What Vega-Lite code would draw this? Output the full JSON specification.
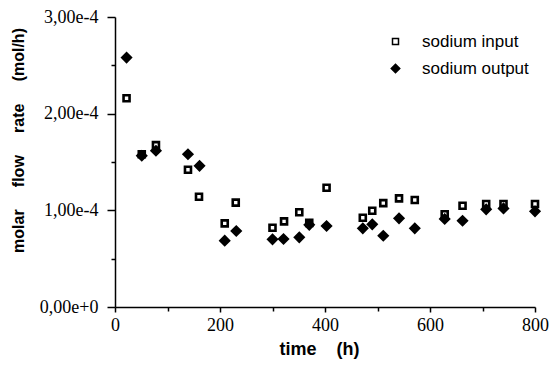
{
  "$schema": "https://vega.github.io/schema/vega-lite/v6.json",
  "width": 420,
  "height": 290,
  "autosize": {"type": "none"},
  "padding": {"left": 115, "top": 17, "right": 15, "bottom": 62},
  "background": "white",
  "config": {
    "view": {"stroke": null},
    "axis": {"grid": false, "domainColor": "black", "domainWidth": 1.5, "tickColor": "black", "tickWidth": 1.5, "labelColor": "black", "titleColor": "black", "titleFont": "Liberation Sans", "titleFontWeight": "bold"},
    "legend": {"labelFont": "Liberation Sans"}
  },
  "data": {"values": [
    {"time": 22, "rate": 0.000216, "series": "sodium input"},
    {"time": 51, "rate": 0.000158, "series": "sodium input"},
    {"time": 78, "rate": 0.0001675, "series": "sodium input"},
    {"time": 139, "rate": 0.000142, "series": "sodium input"},
    {"time": 160, "rate": 0.000114, "series": "sodium input"},
    {"time": 209, "rate": 0.0000865, "series": "sodium input"},
    {"time": 230, "rate": 0.000108, "series": "sodium input"},
    {"time": 300, "rate": 0.000082, "series": "sodium input"},
    {"time": 322, "rate": 0.0000886, "series": "sodium input"},
    {"time": 351, "rate": 0.000098, "series": "sodium input"},
    {"time": 370, "rate": 0.000087, "series": "sodium input"},
    {"time": 403, "rate": 0.0001234, "series": "sodium input"},
    {"time": 472, "rate": 0.0000924, "series": "sodium input"},
    {"time": 490, "rate": 0.0000996, "series": "sodium input"},
    {"time": 511, "rate": 0.0001075, "series": "sodium input"},
    {"time": 541, "rate": 0.0001124, "series": "sodium input"},
    {"time": 571, "rate": 0.0001107, "series": "sodium input"},
    {"time": 628, "rate": 0.000096, "series": "sodium input"},
    {"time": 662, "rate": 0.0001048, "series": "sodium input"},
    {"time": 707, "rate": 0.0001065, "series": "sodium input"},
    {"time": 740, "rate": 0.0001065, "series": "sodium input"},
    {"time": 800, "rate": 0.0001065, "series": "sodium input"},
    {"time": 22, "rate": 0.000258, "series": "sodium output"},
    {"time": 51, "rate": 0.0001565, "series": "sodium output"},
    {"time": 78, "rate": 0.0001616, "series": "sodium output"},
    {"time": 139, "rate": 0.000158, "series": "sodium output"},
    {"time": 161, "rate": 0.000146, "series": "sodium output"},
    {"time": 209, "rate": 0.0000686, "series": "sodium output"},
    {"time": 231, "rate": 0.0000786, "series": "sodium output"},
    {"time": 300, "rate": 0.00007, "series": "sodium output"},
    {"time": 321, "rate": 0.0000703, "series": "sodium output"},
    {"time": 351, "rate": 0.0000721, "series": "sodium output"},
    {"time": 370, "rate": 0.000085, "series": "sodium output"},
    {"time": 403, "rate": 0.0000838, "series": "sodium output"},
    {"time": 472, "rate": 0.0000814, "series": "sodium output"},
    {"time": 490, "rate": 0.0000855, "series": "sodium output"},
    {"time": 511, "rate": 0.0000737, "series": "sodium output"},
    {"time": 541, "rate": 0.0000917, "series": "sodium output"},
    {"time": 571, "rate": 0.0000814, "series": "sodium output"},
    {"time": 628, "rate": 0.000091, "series": "sodium output"},
    {"time": 662, "rate": 0.0000892, "series": "sodium output"},
    {"time": 707, "rate": 0.000101, "series": "sodium output"},
    {"time": 740, "rate": 0.000102, "series": "sodium output"},
    {"time": 800, "rate": 0.000099, "series": "sodium output"}
  ]},
  "layer": [
    {
      "mark": {"type": "point", "strokeWidth": 2.6, "opacity": 1, "fillOpacity": 1, "strokeOpacity": 1},
      "encoding": {
        "x": {"field": "time", "type": "quantitative", "scale": {"domain": [0, 800], "nice": false, "zero": false},
          "axis": {"values": [0, 200, 400, 600, 800], "title": "time\u00a0\u00a0\u00a0\u00a0(h)", "titleFontSize": 18, "titleX": 204, "labelFont": "Liberation Serif", "labelFontSize": 18, "tickSize": 5, "labelPadding": 4, "titlePadding": 6, "labelFlush": false}},
        "y": {"field": "rate", "type": "quantitative", "scale": {"domain": [0, 0.0003], "nice": false},
          "axis": {"values": [0, 0.0001, 0.0002, 0.0003], "format": ".2e", "labelExpr": "replace(datum.label, '.', ',')", "title": "molar\u00a0\u00a0\u00a0\u00a0\u00a0flow\u00a0\u00a0\u00a0\u00a0\u00a0rate\u00a0\u00a0\u00a0\u00a0\u00a0(mol/h)", "titleFontSize": 16, "labelFont": "Liberation Serif", "labelFontSize": 18, "tickSize": 8, "labelPadding": 9, "titleX": -97, "titleY": 123, "titleAngle": 270, "titleAlign": "center", "titleBaseline": "middle"}},
        "shape": {"field": "series", "type": "nominal", "scale": {"domain": ["sodium input", "sodium output"], "range": ["square", "diamond"]},
          "legend": {"orient": "none", "legendX": 272, "legendY": 16, "title": null, "labelFontSize": 17, "labelColor": "black", "rowPadding": 9, "labelOffset": 18, "padding": 0}},
        "fill": {"field": "series", "type": "nominal", "scale": {"domain": ["sodium input", "sodium output"], "range": ["white", "black"]}, "legend": {"orient": "none", "legendX": 272, "legendY": 16, "title": null, "labelFontSize": 17, "labelColor": "black", "rowPadding": 9, "labelOffset": 18, "padding": 0}},
        "stroke": {"field": "series", "type": "nominal", "scale": {"domain": ["sodium input", "sodium output"], "range": ["black", "black"]}, "legend": {"orient": "none", "legendX": 272, "legendY": 16, "title": null, "labelFontSize": 17, "labelColor": "black", "rowPadding": 9, "labelOffset": 18, "padding": 0}},
        "size": {"field": "series", "type": "nominal", "scale": {"domain": ["sodium input", "sodium output"], "range": [36, 72]}, "legend": {"orient": "none", "legendX": 272, "legendY": 16, "title": null, "labelFontSize": 17, "labelColor": "black", "rowPadding": 9, "labelOffset": 18, "padding": 0}}
      }
    },
    {
      "mark": {"type": "point", "opacity": 0},
      "encoding": {
        "x": {"field": "time", "type": "quantitative", "scale": {"domain": [0, 800], "nice": false, "zero": false},
          "axis": {"orient": "bottom", "values": [100, 300, 500, 700], "labels": false, "domain": false, "title": null, "tickSize": 4}},
        "y": {"field": "rate", "type": "quantitative", "scale": {"domain": [0, 0.0003], "nice": false},
          "axis": {"orient": "left", "values": [0.00005, 0.00015, 0.00025], "labels": false, "domain": false, "title": null, "tickSize": 4}}
      }
    }
  ],
  "resolve": {"axis": {"x": "independent", "y": "independent"}}
}
